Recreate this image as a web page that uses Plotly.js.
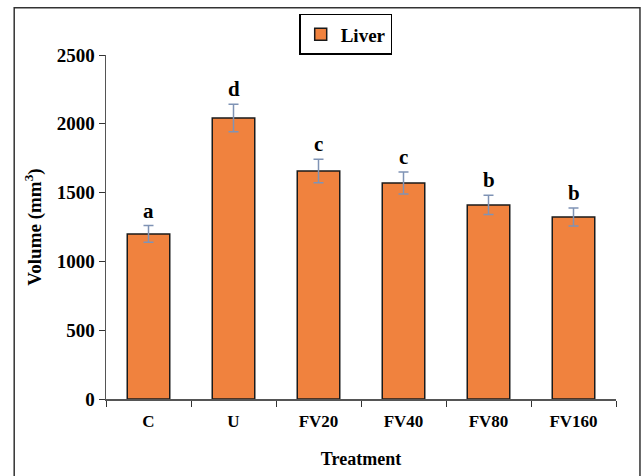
<!DOCTYPE html>
<html><head><meta charset="utf-8">
<script src="https://cdn.plot.ly/plotly-3.0.1.min.js"></script>
<style>body{margin:0;background:#fff}#chart{width:641px;height:476px}</style>
</head><body><div id="chart"></div>
<script>
const categories = ["C", "U", "FV20", "FV40", "FV80", "FV160"];
const liverVolume = [1200, 2042, 1657, 1570, 1410, 1323];
const liverError = [60, 100, 85, 80, 70, 65];
const groupLetters = ["a", "d", "c", "c", "b", "b"];
const yTicks = [0, 500, 1000, 1500, 2000, 2500];

const serif = "Liberation Serif";

const trace = {
  type: "bar",
  x: categories,
  y: liverVolume,
  name: "<b>Liver</b>",
  width: 0.5,
  marker: {color: "#F0823E", line: {color: "#1a1a1a", width: 1.5}},
  error_y: {type: "data", array: liverError, visible: true, color: "#7F93B5", thickness: 1.5, width: 5}
};

const annotations = categories.map((c, i) => ({
  x: c, y: liverVolume[i] + liverError[i], xref: "x", yref: "y",
  text: "<b>" + groupLetters[i] + "</b>", showarrow: false,
  yanchor: "bottom", yshift: 1,
  font: {family: serif, size: 21, color: "#000"}
}));

const layout = {
  width: 641, height: 476,
  margin: {l: 106, r: 25, t: 55, b: 77},
  paper_bgcolor: "#fff", plot_bgcolor: "#fff",
  showlegend: true,
  legend: {
    x: 0.47, xanchor: "center", y: 1.06, yanchor: "middle",
    orientation: "h", bordercolor: "#000", borderwidth: 1.5,
    font: {family: serif, size: 19, color: "#000"}, bgcolor: "#fff"
  },
  xaxis: {
    type: "category", tickson: "boundaries", ticks: "outside", ticklen: 6,
    tickcolor: "#333", showline: true, linecolor: "#555", linewidth: 1.5,
    ticklabelstandoff: 6,
    tickfont: {family: serif, size: 17, color: "#000", weight: "bold"},
    title: {text: "<b>Treatment</b>", font: {family: serif, size: 18, color: "#000"}, standoff: 22},
    showgrid: false, fixedrange: true
  },
  yaxis: {
    range: [0, 2500], tickvals: yTicks, ticks: "outside", ticklen: 6,
    tickcolor: "#333", showline: true, linecolor: "#555", linewidth: 1.5,
    tickfont: {family: serif, size: 19, color: "#000", weight: "bold"},
    title: {text: "<b>Volume (mm<sup>3</sup>)</b>", font: {family: serif, size: 19, color: "#000"}, standoff: 10},
    showgrid: false, zeroline: false
  },
  annotations: annotations,
  shapes: [{
    type: "rect", xref: "paper", yref: "paper",
    x0: -0.18, x1: 1.047, y0: -0.3, y1: 1.137,
    line: {color: "#333", width: 1.5}
  }]
};

Plotly.newPlot("chart", [trace], layout, {displayModeBar: false, staticPlot: true});
</script></body></html>
